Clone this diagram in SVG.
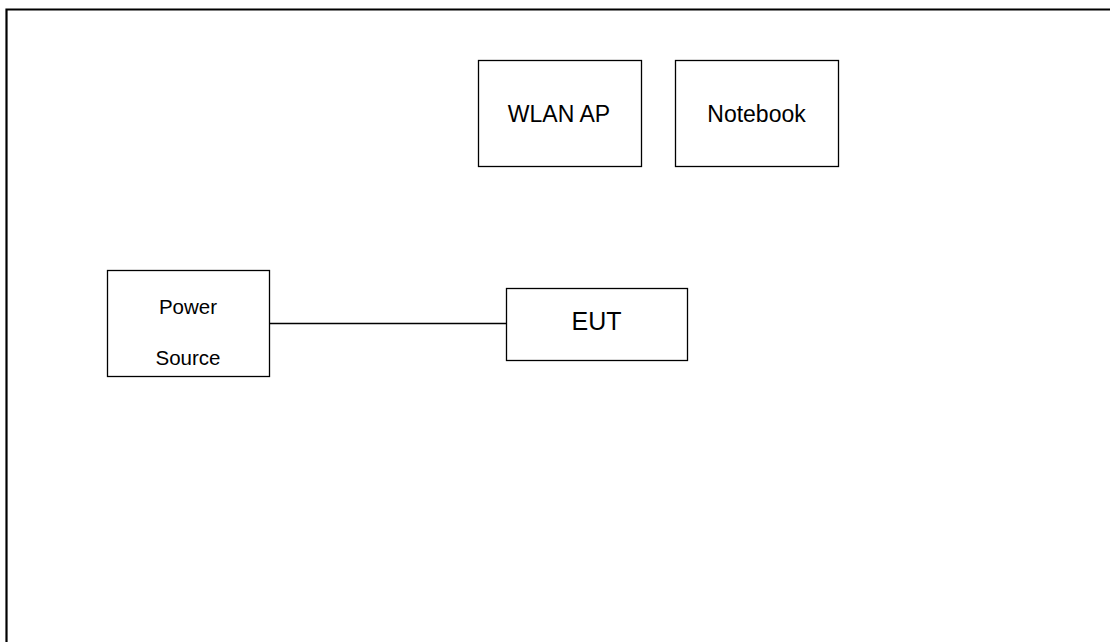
<svg xmlns="http://www.w3.org/2000/svg" width="1110" height="642" viewBox="0 0 1110 642">
<style>
.box{fill:#fff;stroke:#000;stroke-width:1.3}
.t{font-family:"Liberation Sans",Arial,sans-serif;fill:#000;text-anchor:middle}
</style>
<rect width="1110" height="642" fill="#fff"/>
<g id="frame"><path d="M6.5,642 V9.5 H1110" fill="none" stroke="#000" stroke-width="2.2"/></g>
<g id="connectors"><line x1="269" y1="323.5" x2="506" y2="323.5" stroke="#000" stroke-width="1.5"/></g>
<g id="wlan-ap"><rect class="box" x="478.5" y="60.5" width="163" height="106"/><text class="t" x="559" y="122" font-size="23">WLAN AP</text></g>
<g id="notebook"><rect class="box" x="675.5" y="60.5" width="163" height="106"/><text class="t" x="756.5" y="122" font-size="23">Notebook</text></g>
<g id="power-source"><rect class="box" x="107.5" y="270.5" width="162" height="106"/><text class="t" x="188" y="314" font-size="20.5">Power</text><text class="t" x="188" y="365" font-size="20.5">Source</text></g>
<g id="eut"><rect class="box" x="506.5" y="288.5" width="181" height="72"/><text class="t" x="596.5" y="330" font-size="25">EUT</text></g>
</svg>
